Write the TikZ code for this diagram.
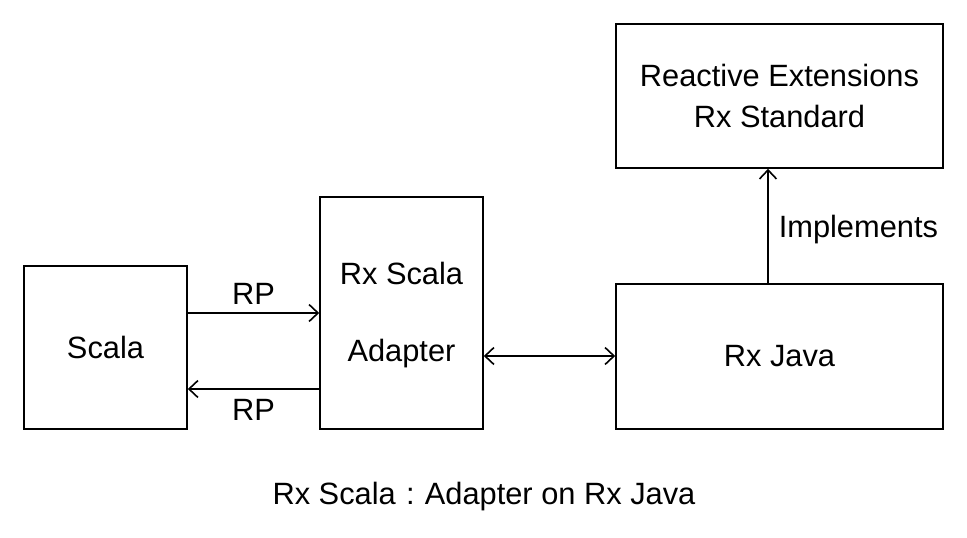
\documentclass[tikz,border=0pt]{standalone}
\usepackage{fontspec}
\setmainfont{Liberation Sans}
\usetikzlibrary{arrows.meta}
\begin{document}
\begin{tikzpicture}[x=1pt,y=-1pt,
  box/.style={draw,line width=1.6pt,inner sep=0pt,align=center,font=\fontsize{30.8}{41}\selectfont},
  conn/.style={line width=1.6pt,-{Straight Barb[length=9pt,width=17pt,line width=1.6pt]}},
  lbl/.style={font=\fontsize{30.8}{34}\selectfont,inner sep=0pt}]
\useasboundingbox (0,0) rectangle (967,538);
\node[box,minimum width=163pt,minimum height=163pt] (scala) at (105.5,347.5) {Scala};
\node[box,minimum width=163pt,minimum height=232pt] (adapter) at (401.5,313) {};
\node[lbl] (adt1) at (401.5,273) {Rx Scala};
\node[lbl] (adt2) at (401.5,354) {Adapter};
\node[box,minimum width=327pt,minimum height=145pt] (java) at (779.5,356.5) {Rx Java};
\node[box,minimum width=327pt,minimum height=144pt] (rx) at (779.5,96) {Reactive Extensions\\Rx Standard};
\coordinate (a1) at (scala.east |- 0,313);
\coordinate (a2) at (adapter.west |- 0,313);
\coordinate (b1) at (adapter.west |- 0,389);
\coordinate (b2) at (scala.east |- 0,389);
\draw[conn] (a1) -- node[lbl,above=8pt] (rp1) {RP} (a2);
\draw[conn] (b1) -- node[lbl,below=10pt] (rp2) {RP} (b2);
\coordinate (c1) at (adapter.east |- 0,356);
\coordinate (c2) at (java.west |- 0,356);
\draw[line width=1.6pt,{Straight Barb[length=9pt,width=17pt,line width=1.6pt]}-{Straight Barb[length=9pt,width=17pt,line width=1.6pt]}] (c1) -- (c2);
\coordinate (d1) at (768,284);
\coordinate (d2) at (768,168);
\draw[conn] (java.north -| d1) -- node[lbl,right=10pt,yshift=-4pt] (impl) {Implements} (rx.south -| d2);
\node[lbl] (cap) at (484,497) {Rx Scala\,\,:\,\,Adapter on Rx Java};
\end{tikzpicture}
\end{document}
